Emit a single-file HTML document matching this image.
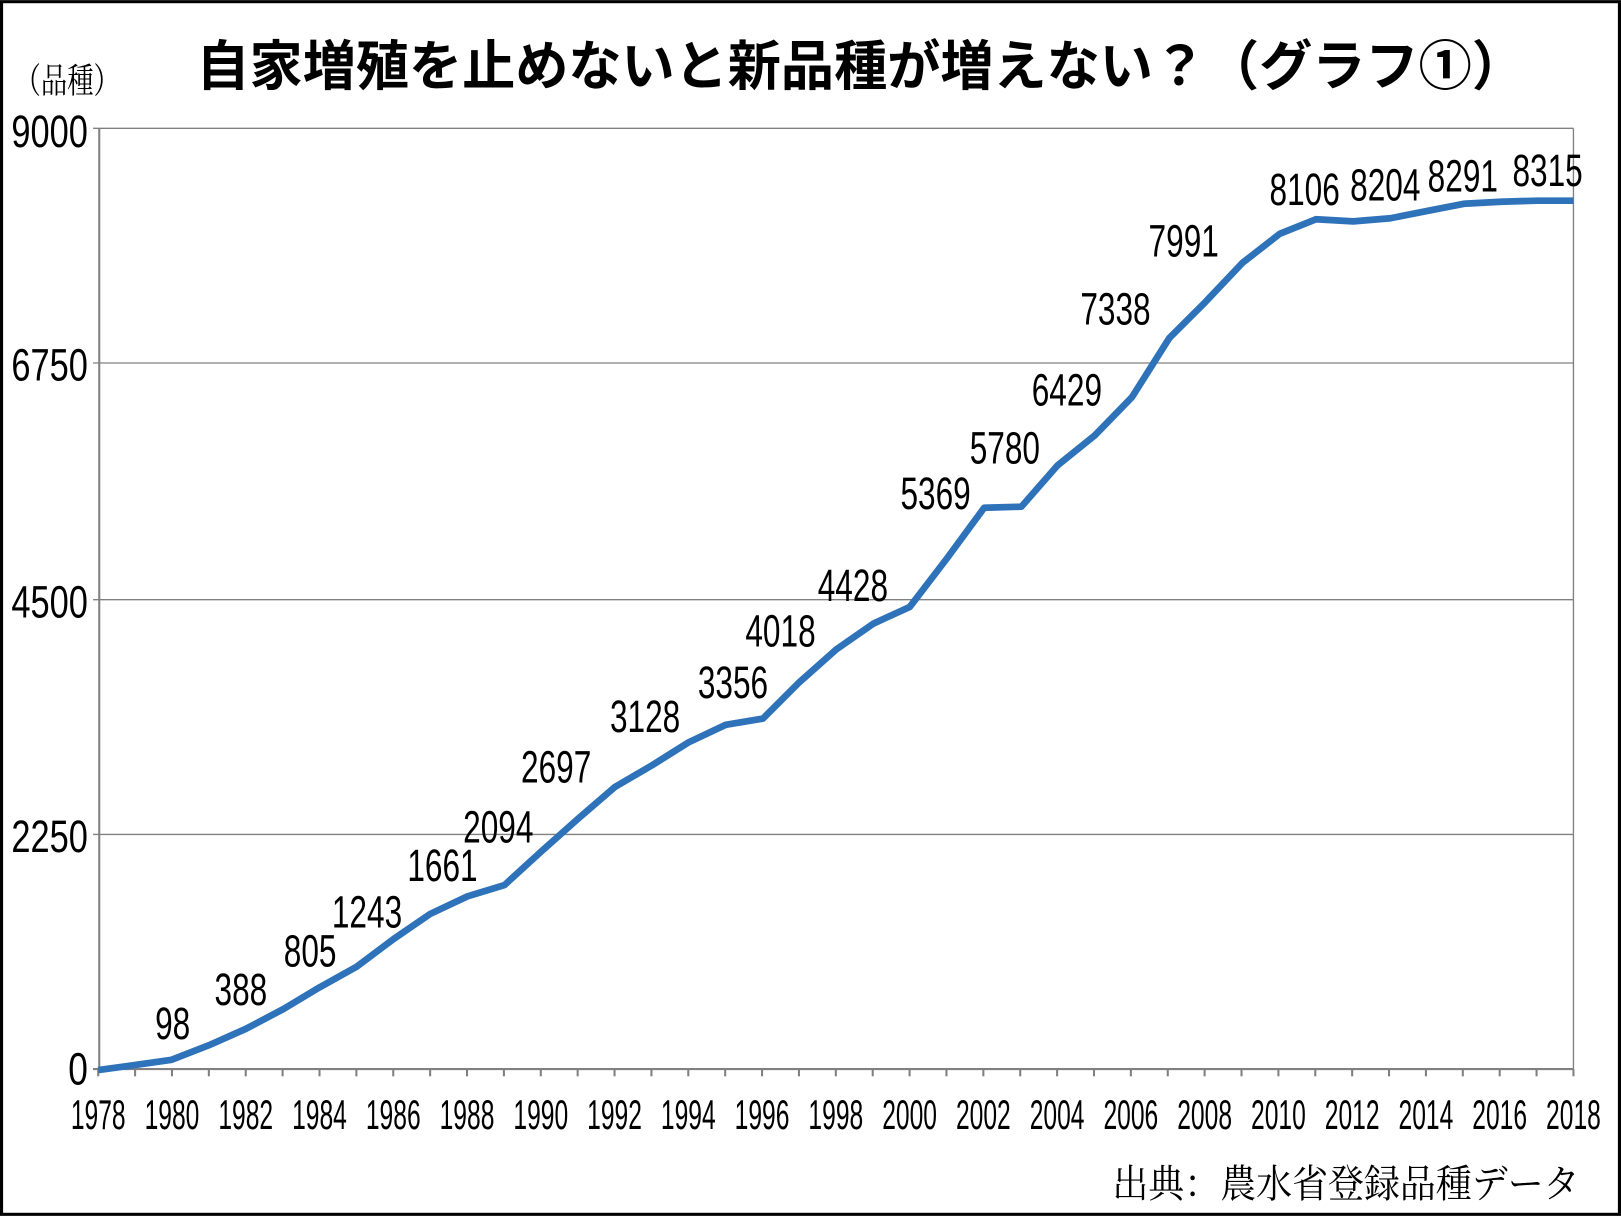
<!DOCTYPE html>
<html><head><meta charset="utf-8"><style>html,body{margin:0;padding:0;background:#fff}svg{display:block}</style></head><body>
<svg width="1621" height="1216" viewBox="0 0 1568 1176" xmlns="http://www.w3.org/2000/svg">
<rect x="1.5" y="1.5" width="1565" height="1173" fill="#fff" stroke="#000" stroke-width="3"/>
<g stroke="#808080" stroke-width="1.3">
<line x1="90" y1="124" x2="1522" y2="124"/>
<line x1="90" y1="351" x2="1522" y2="351"/>
<line x1="90" y1="580" x2="1522" y2="580"/>
<line x1="90" y1="807" x2="1522" y2="807"/>
<line x1="90" y1="1034" x2="1522" y2="1034" stroke-width="2"/>
<line x1="96" y1="124" x2="96" y2="1034" stroke-width="2"/>
<line x1="1522" y1="124" x2="1522" y2="1034"/>
</g>
<g id="ticks" stroke="#808080" stroke-width="2"></g>
<g font-family="'Liberation Sans Narrow','Liberation Sans',sans-serif" font-size="44" text-anchor="end" fill="#000">
<text x="85" y="142" textLength="74" lengthAdjust="spacingAndGlyphs">9000</text>
<text x="85" y="368" textLength="74" lengthAdjust="spacingAndGlyphs">6750</text>
<text x="85" y="597" textLength="74" lengthAdjust="spacingAndGlyphs">4500</text>
<text x="85" y="824" textLength="74" lengthAdjust="spacingAndGlyphs">2250</text>
<text x="85" y="1049" textLength="19" lengthAdjust="spacingAndGlyphs">0</text>
</g>
<g id="years" font-family="'Liberation Sans Narrow','Liberation Sans',sans-serif" font-size="40" text-anchor="middle"></g>
<polyline fill="none" stroke="#2e72b9" stroke-width="6.5" stroke-linejoin="round" points="95,1035 131,1030 166,1025 202,1011 238,995 274,976 309,955 345,935 381,908 416,884 452,867 488,856 523,824 559,792 595,761 631,740 666,718 702,701 738,695 773,660 809,628 845,603 880,587 916,540 952,491 988,490 1023,450 1059,421 1095,384 1131,327 1166,292 1202,254 1238,226 1273,212 1309,214 1345,211 1380,204 1416,197 1452,195 1487,194 1522,194"/>
<g font-family="'Liberation Sans Narrow','Liberation Sans',sans-serif" font-size="44" text-anchor="middle" fill="#000">
<text x="167" y="1005" textLength="34" lengthAdjust="spacingAndGlyphs">98</text>
<text x="233" y="972" textLength="51" lengthAdjust="spacingAndGlyphs">388</text>
<text x="300" y="935" textLength="51" lengthAdjust="spacingAndGlyphs">805</text>
<text x="355" y="897" textLength="68" lengthAdjust="spacingAndGlyphs">1243</text>
<text x="428" y="852" textLength="68" lengthAdjust="spacingAndGlyphs">1661</text>
<text x="482" y="815" textLength="68" lengthAdjust="spacingAndGlyphs">2094</text>
<text x="538" y="757" textLength="68" lengthAdjust="spacingAndGlyphs">2697</text>
<text x="624" y="708" textLength="68" lengthAdjust="spacingAndGlyphs">3128</text>
<text x="709" y="675" textLength="68" lengthAdjust="spacingAndGlyphs">3356</text>
<text x="755" y="625" textLength="68" lengthAdjust="spacingAndGlyphs">4018</text>
<text x="825" y="581" textLength="68" lengthAdjust="spacingAndGlyphs">4428</text>
<text x="905" y="492" textLength="68" lengthAdjust="spacingAndGlyphs">5369</text>
<text x="972" y="448" textLength="68" lengthAdjust="spacingAndGlyphs">5780</text>
<text x="1032" y="392" textLength="68" lengthAdjust="spacingAndGlyphs">6429</text>
<text x="1079" y="314" textLength="68" lengthAdjust="spacingAndGlyphs">7338</text>
<text x="1145" y="248" textLength="68" lengthAdjust="spacingAndGlyphs">7991</text>
<text x="1262" y="198" textLength="68" lengthAdjust="spacingAndGlyphs">8106</text>
<text x="1340" y="194" textLength="68" lengthAdjust="spacingAndGlyphs">8204</text>
<text x="1415" y="185" textLength="68" lengthAdjust="spacingAndGlyphs">8291</text>
<text x="1497" y="180" textLength="68" lengthAdjust="spacingAndGlyphs">8315</text>
</g>
<text x="190" y="82" font-family="'Liberation Sans','Noto Sans CJK JP',sans-serif" font-weight="bold" font-size="52" textLength="1285" lengthAdjust="spacingAndGlyphs">自家増殖を止めないと新品種が増えない？（グラフ①）</text>
<text x="14" y="90" font-family="'Liberation Serif','Noto Serif CJK SC',serif" font-size="34" textLength="102" lengthAdjust="spacingAndGlyphs">（品種）</text>
<text x="1076" y="1158" font-family="'Liberation Serif','Noto Serif CJK SC',serif" font-size="38" textLength="452" lengthAdjust="spacingAndGlyphs">出典：農水省登録品種データ</text>
<script>
(function(){var ns="http://www.w3.org/2000/svg",t=document.getElementById("ticks"),y=document.getElementById("years");
for(var i=0;i<=40;i++){var x=95+i*35.675;var l=document.createElementNS(ns,"line");l.setAttribute("x1",x);l.setAttribute("x2",x);l.setAttribute("y1",1034);l.setAttribute("y2",1041);t.appendChild(l);
if(i%2==0){var e=document.createElementNS(ns,"text");e.setAttribute("x",x);e.setAttribute("y",1092);e.setAttribute("textLength",53);e.setAttribute("lengthAdjust","spacingAndGlyphs");e.textContent=1978+i;y.appendChild(e);}}})();
</script>
</svg>
</body></html>
